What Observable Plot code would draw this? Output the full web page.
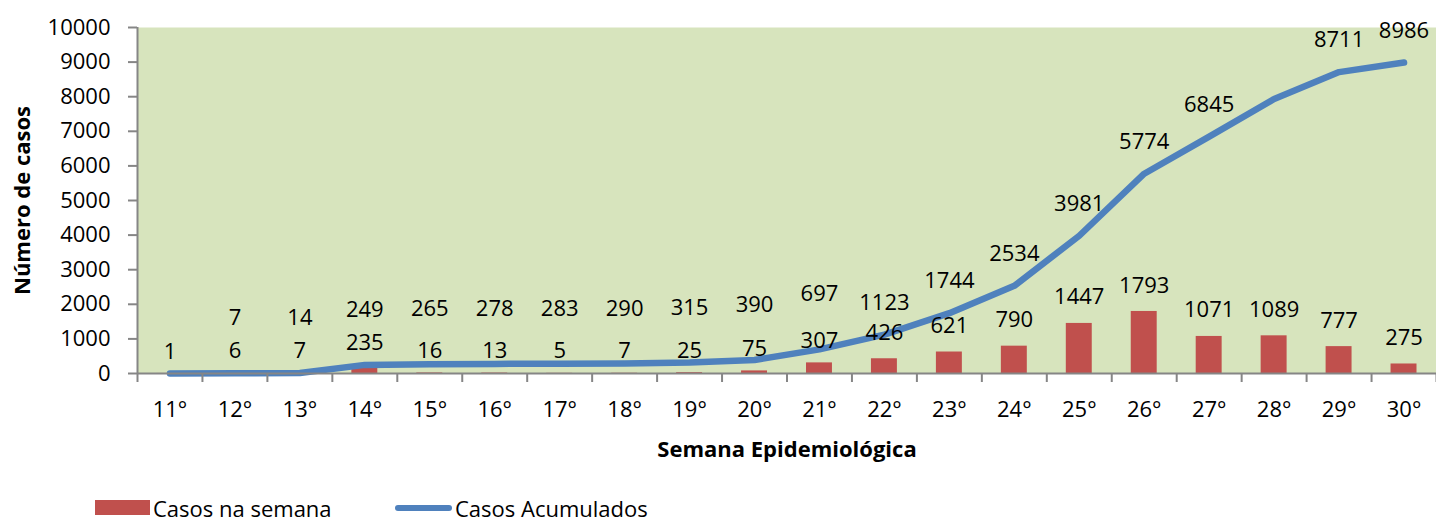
<!DOCTYPE html>
<html>
<head>
<meta charset="utf-8">
<script src="https://cdn.jsdelivr.net/npm/d3@7"></script>
<script src="https://cdn.jsdelivr.net/npm/@observablehq/plot@0.6"></script>
<style>
  body { margin: 0; background: #fff; font-family: "Open Sans", sans-serif; }
  #chart svg { display: block; }
  #legend { position: relative; width: 1436px; height: 51px; font-size: 22px; color: #000; }
  #legend .sw-bar { position: absolute; left: 95px; top: 30px; width: 55px; height: 15px; background: #C0504D; }
  #legend .sw-line { position: absolute; left: 395px; top: 35px; width: 57px; height: 6px; border-radius: 3px; background: #4F81BD; }
  #legend .lab { position: absolute; top: 38px; transform: translateY(-50%); line-height: 1; white-space: nowrap; }
</style>
</head>
<body>
<div id="chart"></div>
<div id="legend">
  <div class="sw-bar"></div><div class="lab" style="left:153px">Casos na semana</div>
  <div class="sw-line"></div><div class="lab" style="left:455px">Casos Acumulados</div>
</div>
<script>
const weeks = [11, 12, 13, 14, 15, 16, 17, 18, 19, 20, 21, 22, 23, 24, 25, 26, 27, 28, 29, 30];
const weekLabels = ["11°", "12°", "13°", "14°", "15°", "16°", "17°", "18°", "19°", "20°",
                    "21°", "22°", "23°", "24°", "25°", "26°", "27°", "28°", "29°", "30°"];
const weeklyCases = [1, 6, 7, 235, 16, 13, 5, 7, 25, 75, 307, 426, 621, 790, 1447, 1793, 1071, 1089, 777, 275];
const cumulativeCases = [1, 7, 14, 249, 265, 278, 283, 290, 315, 390, 697, 1123, 1744, 2534, 3981, 5774, 6845, 7934, 8711, 8986];
const yTicks = [0, 1000, 2000, 3000, 4000, 5000, 6000, 7000, 8000, 9000, 10000];
// weeks whose accumulated value has no label in the source chart
const unlabeledCumulativeWeeks = [11, 28];
// up to this week the two label rows sit close to the baseline and are spread further apart
const lastCrowdedWeek = 21;

const data = weeks.map((w, i) => ({ week: w, weekly: weeklyCases[i], cumulative: cumulativeCases[i] }));
const boundaries = weeks.map(w => w - 0.5).concat([weeks[weeks.length - 1] + 0.5]);
const crowded = data.filter(d => d.week <= lastCrowdedWeek);
const open = data.filter(d => d.week > lastCrowdedWeek);
const cumLabeled = arr => arr.filter(d => !unlabeledCumulativeWeeks.includes(d.week));

const chart = Plot.plot({
  width: 1436,
  height: 470,
  marginTop: 27,
  marginLeft: 137,
  marginRight: 0,
  marginBottom: 97,
  style: { fontFamily: "'Open Sans', sans-serif", fontSize: "22px", color: "#000", background: "#fff", overflow: "visible" },
  x: { domain: [weeks[0] - 0.5, weeks[weeks.length - 1] + 0.5], axis: null, label: null },
  y: { domain: [0, 10000], axis: null, label: null },
  marks: [
    Plot.frame({ fill: "#D7E4BD", stroke: null }),
    Plot.rectY(data, { x1: d => d.week - 0.5, x2: d => d.week + 0.5, y: "weekly", insetLeft: 19.5, insetRight: 19.5, fill: "#C0504D" }),
    Plot.line(data, { x: "week", y: "cumulative", stroke: "#4F81BD", strokeWidth: 6.5, strokeLinecap: "round", strokeLinejoin: "round" }),
    Plot.ruleX([weeks[0] - 0.5], { stroke: "#868686", strokeWidth: 2 }),
    Plot.ruleY([0], { stroke: "#868686", strokeWidth: 2 }),
    Plot.axisY({ ticks: yTicks, tickSize: 9, tickPadding: 18, tickFormat: d => String(d), stroke: "#868686", strokeWidth: 2, fill: "#000", fontSize: 22, label: null }),
    Plot.axisX({ ticks: boundaries, tickSize: 9, tickFormat: () => "", stroke: "#868686", strokeWidth: 2, label: null }),
    Plot.axisX({ ticks: weeks, tickSize: 0, tickPadding: 28, tickFormat: d => weekLabels[weeks.indexOf(d)], fill: "#000", fontSize: 22, label: null }),
    Plot.text(crowded, { x: "week", y: "weekly", text: d => String(d.weekly), dy: -22, fill: "#000", fontSize: 22 }),
    Plot.text(open, { x: "week", y: "weekly", text: d => String(d.weekly), dy: -26, fill: "#000", fontSize: 22 }),
    Plot.text(cumLabeled(crowded), { x: "week", y: "cumulative", text: d => String(d.cumulative), dy: -55, fill: "#000", fontSize: 22 }),
    Plot.text(cumLabeled(open), { x: "week", y: "cumulative", text: d => String(d.cumulative), dy: -32, fill: "#000", fontSize: 22 }),
    Plot.text(["Semana Epidemiológica"], { frameAnchor: "bottom", dy: 83, fontWeight: "bold", fontSize: 22, fill: "#000" }),
    Plot.text(["Número de casos"], { frameAnchor: "left", textAnchor: "middle", dx: -115, rotate: -90, fontWeight: "bold", fontSize: 22, fill: "#000" })
  ]
});
document.getElementById("chart").appendChild(chart);
</script>
</body>
</html>
